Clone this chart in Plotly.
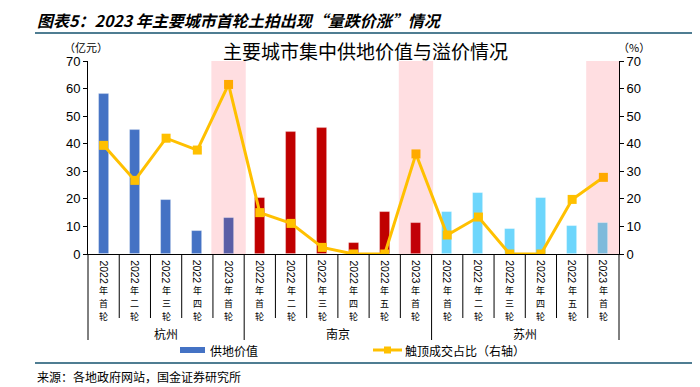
import plotly.graph_objects as go

# ---------------- data ----------------
categories = ["2022年首轮", "2022年二轮", "2022年三轮", "2022年四轮", "2023年首轮",
              "2022年首轮", "2022年二轮", "2022年三轮", "2022年四轮", "2022年五轮", "2023年首轮",
              "2022年首轮", "2022年二轮", "2022年三轮", "2022年四轮", "2022年五轮", "2023年首轮"]
cities = ["杭州"] * 5 + ["南京"] * 6 + ["苏州"] * 6
supply_value = [58.2, 45.1, 19.5, 8.3, 13.2,
                20.2, 44.4, 45.8, 4.0, 15.1, 11.2,
                15.1, 22.2, 9.0, 20.2, 10.0, 11.2]          # 亿元
cap_share = [39.4, 26.7, 42.0, 37.7, 61.5,
             15.0, 11.1, 2.4, 0.0, 0.0, 36.3,
             6.9, 13.4, 0.0, 0.0, 19.8, 27.8]                # %
y_ticks = [0, 10, 20, 30, 40, 50, 60, 70]

city_color = {"杭州": "#4472C4", "南京": "#C00000", "苏州": "#6DD6FC"}
city_color_hl = {"杭州": "#5A5EA6", "南京": "#C20008", "苏州": "#7EBADB"}
line_color, line_color_hl = "#FFC000", "#FFAA00"
pink = "#FFDEE1"
rule_color = "#4F7D92"
CJK = "Noto Sans CJK SC"
LAT = "Liberation Sans"

n = len(categories)
xs = list(range(n))
highlight = [c.startswith("2023") for c in categories]
bar_colors = [(city_color_hl if h else city_color)[c] for c, h in zip(cities, highlight)]
mk_colors = [line_color_hl if h else line_color for h in highlight]

# page geometry (the html body adds an 8px margin, so the figure is drawn 8px in)
OFF = 8
PW, PH = 700, 387
W, H = PW - OFF, PH - OFF
L, R, T, B = 88 - OFF, 619 - OFF, 61 - OFF, 254 - OFF
XMIN, XMAX = -0.5, n - 0.5


def pxx(p):
    return (p - OFF - L) / (R - L)


def pyy(p):
    return (B - (p - OFF)) / (B - T)


def xidx(v):
    return (v - XMIN) / (XMAX - XMIN)


fig = go.Figure()
fig.add_trace(go.Bar(x=xs, y=supply_value, name="供地价值", width=0.32,
                     marker=dict(color=bar_colors, line=dict(color="rgba(255,255,255,0.35)", width=0.8)),
                     showlegend=False))
fig.add_trace(go.Scatter(x=xs, y=cap_share, name="触顶成交占比（右轴）", yaxis="y2",
                         mode="lines+markers", line=dict(color=line_color, width=3),
                         marker=dict(symbol="square", size=9, color=mk_colors),
                         showlegend=False))

shapes = []
# pink highlight bands
for i, h in enumerate(highlight):
    if h:
        shapes.append(dict(type="rect", xref="x", yref="y", x0=i - 0.55, x1=i + 0.55, y0=0, y1=70,
                           fillcolor=pink, line=dict(width=0), layer="below"))
# category separators
group_bounds = {0, n}
for i in range(1, n):
    if cities[i] != cities[i - 1]:
        group_bounds.add(i)
for b in range(n + 1):
    xb = xidx(b - 0.5)
    y1 = pyy(340) if b in group_bounds else pyy(318)
    shapes.append(dict(type="line", xref="paper", yref="paper", x0=xb, x1=xb, y0=0, y1=y1,
                       line=dict(color="#000000", width=1)))
# top and bottom rules
shapes.append(dict(type="line", xref="paper", yref="paper", x0=pxx(35), x1=pxx(700), y0=pyy(33), y1=pyy(33),
                   line=dict(color=rule_color, width=2)))
shapes.append(dict(type="line", xref="paper", yref="paper", x0=pxx(35), x1=pxx(700), y0=pyy(363), y1=pyy(363),
                   line=dict(color=rule_color, width=2)))
# legend symbols
shapes.append(dict(type="rect", xref="paper", yref="paper", x0=pxx(180), x1=pxx(205), y0=pyy(353), y1=pyy(347),
                   fillcolor=city_color["杭州"], line=dict(width=0)))
shapes.append(dict(type="line", xref="paper", yref="paper", x0=pxx(373), x1=pxx(402), y0=pyy(350), y1=pyy(350),
                   line=dict(color=line_color, width=3)))
shapes.append(dict(type="rect", xref="paper", yref="paper", x0=pxx(384), x1=pxx(391), y0=pyy(353.5), y1=pyy(346.5),
                   fillcolor=line_color, line=dict(width=0)))

ann = []
# category labels: rotated year digits + stacked CJK characters
for i, lab in enumerate(categories):
    year, rest = lab[:4], lab[4:]
    ann.append(dict(x=i, xref="x", y=pyy(272), yref="paper", text=year, textangle=90, showarrow=False,
                    font=dict(family=LAT, size=10.5, color="#000"), xanchor="center", yanchor="middle",
                    borderpad=0))
    for k, ch in enumerate(rest):
        ann.append(dict(x=i, xref="x", y=pyy(290 + 13 * k), yref="paper", text=ch, showarrow=False,
                        font=dict(family=CJK, size=9, color="#000"), xanchor="center", yanchor="middle",
                        borderpad=0))
# group labels
start = 0
for i in range(1, n + 1):
    if i == n or cities[i] != cities[start]:
        ann.append(dict(x=(start + i - 1) / 2, xref="x", y=pyy(333), yref="paper", text=cities[start],
                        showarrow=False, font=dict(family=CJK, size=12, color="#000"),
                        xanchor="center", yanchor="middle", borderpad=0))
        start = i
# titles and notes
ann.append(dict(x=pxx(35), y=pyy(20.5), xref="paper", yref="paper", xanchor="left", yanchor="middle",
                text="图表5：2023 年主要城市首轮土拍出现“量跌价涨”情况", showarrow=False,
                font=dict(family=CJK, size=16, color="#000", weight="bold", style="italic")))
ann.append(dict(x=pxx(365), y=pyy(50), xref="paper", yref="paper", xanchor="center", yanchor="middle",
                text="主要城市集中供地价值与溢价情况", showarrow=False,
                font=dict(family=CJK, size=19, color="#000")))
ann.append(dict(x=pxx(86), y=pyy(47), xref="paper", yref="paper", xanchor="center", yanchor="middle",
                text="（亿元）", showarrow=False, font=dict(family=CJK, size=11, color="#000")))
ann.append(dict(x=pxx(634), y=pyy(47), xref="paper", yref="paper", xanchor="center", yanchor="middle",
                text="（%）", showarrow=False, font=dict(family=CJK, size=11, color="#000")))
ann.append(dict(x=pxx(208), y=pyy(350), xref="paper", yref="paper", xanchor="left", yanchor="middle",
                text="供地价值", showarrow=False, font=dict(family=CJK, size=12, color="#000")))
ann.append(dict(x=pxx(403), y=pyy(350), xref="paper", yref="paper", xanchor="left", yanchor="middle",
                text="触顶成交占比（右轴）", showarrow=False, font=dict(family=CJK, size=12, color="#000")))
ann.append(dict(x=pxx(35), y=pyy(376), xref="paper", yref="paper", xanchor="left", yanchor="middle",
                text="来源：各地政府网站，国金证券研究所", showarrow=False,
                font=dict(family=CJK, size=12, color="#000")))

fig.update_layout(
    width=W, height=H,
    margin=dict(l=L, r=W - R, t=T, b=H - B, pad=0),
    paper_bgcolor="white", plot_bgcolor="white",
    showlegend=False,
    bargap=0,
    xaxis=dict(range=[XMIN, XMAX], showticklabels=False, showgrid=False, zeroline=False,
               showline=True, linecolor="#000", linewidth=1, ticks=""),
    yaxis=dict(range=[0, 70], tickvals=y_ticks, showgrid=False, zeroline=False,
               showline=True, linecolor="#000", linewidth=1, ticks="outside", ticklen=4,
               tickcolor="#000", tickfont=dict(family=LAT, size=13, color="#000")),
    yaxis2=dict(range=[0, 70], tickvals=y_ticks, overlaying="y", side="right", showgrid=False,
                zeroline=False, showline=True, linecolor="#000", linewidth=1, ticks="outside",
                ticklen=4, tickcolor="#000", tickfont=dict(family=LAT, size=13, color="#000")),
    shapes=shapes,
    annotations=ann,
)

fig.write_html("out.html")
